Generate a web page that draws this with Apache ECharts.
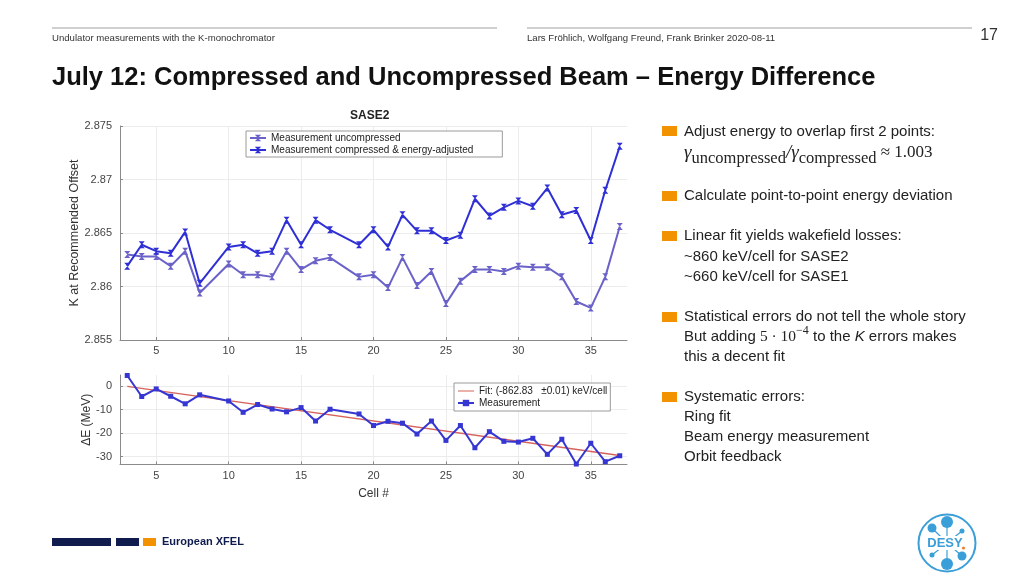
<!DOCTYPE html>
<html><head><meta charset="utf-8">
<script src="https://cdn.jsdelivr.net/npm/echarts@6.0.0/dist/echarts.min.js"></script>
<style>html,body{margin:0;padding:0;background:#fff}#c{width:1024px;height:576px}</style>
</head><body><div id="c"></div>
<script>
// ---- data ----
const cells = [3,4,5,6,7,8,10,11,12,13,14,15,16,17,19,20,21,22,23,24,25,26,27,28,29,30,31,32,33,34,35,36,37];
const kUncompressed = [2.8630,2.8628,2.8628,2.8619,2.8633,2.8594,2.8621,2.8611,2.8611,2.8609,2.8633,2.8616,2.8624,2.8627,2.8609,2.8611,2.8599,2.8627,2.8601,2.8614,2.8584,2.8605,2.8616,2.8616,2.8614,2.8619,2.8618,2.8618,2.8609,2.8586,2.8580,2.8609,2.8656];
const kCompressed = [2.8619,2.8639,2.8633,2.8631,2.8651,2.8603,2.8637,2.8639,2.8631,2.8633,2.8662,2.8639,2.8662,2.8653,2.8639,2.8653,2.8637,2.8667,2.8652,2.8652,2.8643,2.8648,2.8682,2.8666,2.8674,2.8680,2.8675,2.8692,2.8667,2.8671,2.8643,2.8690,2.8731];
const deltaE = [4.4,-4.5,-1.3,-4.4,-7.6,-3.8,-6.4,-11.2,-7.9,-9.8,-11.0,-9.2,-14.9,-9.9,-11.9,-16.8,-15.0,-15.8,-20.4,-14.9,-23.1,-16.8,-26.2,-19.4,-23.5,-23.8,-22.2,-29.0,-22.6,-33.1,-24.3,-32.1,-29.6];
const fitCells = [3,37];
const fitValues = [-0.2,-29.5];
const xTicks = [5,10,15,20,25,30,35];
const kTicks = [2.855,2.86,2.865,2.87,2.875];
const eTicks = [-30,-20,-10,0];
const seriesNames = ['Measurement uncompressed','Measurement compressed & energy-adjusted','Fit: (-862.83   \u00b10.01) keV/cell','Measurement'];

const chart = echarts.init(document.getElementById('c'));
const ctx = document.createElement('canvas').getContext('2d');
const SANS = '"Liberation Sans", Arial, sans-serif';
const SERIF = '"Liberation Serif", "Times New Roman", serif';
function runs(x, segs, fill) {
  const out = []; let cx = x;
  segs.forEach(s => {
    ctx.font = s.font;
    out.push({type:'text', x:cx, y:s.y, z:10, style:{text:s.text, font:s.font, fill:fill||'#222', verticalAlign:'middle'}});
    cx += ctx.measureText(s.text).width;
  });
  return out;
}
const hourglass = 'path://M0,0L10,0L5,5L10,10L0,10L5,5Z';
const lineIcon = 'path://M0,0L0.01,0L0.01,0.01Z M0,3L30,3L30,5L0,5Z M0,8L0.01,8L0.01,7.99Z';
const axisCommon = {
  axisLine:{show:true, onZero:false, lineStyle:{color:'#8a8a8a', width:1}},
  splitLine:{show:true, lineStyle:{color:'#ececec', width:1}}
};

// ---- slide graphics ----
const g = [];
g.push({type:'line', shape:{x1:52,y1:28,x2:497,y2:28}, style:{stroke:'#a0a0a0', lineWidth:1}});
g.push({type:'line', shape:{x1:527,y1:28,x2:972,y2:28}, style:{stroke:'#a0a0a0', lineWidth:1}});
g.push({type:'text', x:52, y:38, style:{text:'Undulator measurements with the K-monochromator', font:'9.6px ' + SANS, fill:'#333', verticalAlign:'middle'}});
g.push({type:'text', x:527, y:38, style:{text:'Lars Fr\u00f6hlich, Wolfgang Freund, Frank Brinker 2020-08-11', font:'9.6px ' + SANS, fill:'#333', verticalAlign:'middle'}});
g.push({type:'text', x:998, y:36, style:{text:'17', font:'16px ' + SANS, fill:'#333', align:'right', verticalAlign:'middle'}});
g.push({type:'text', x:52, y:78, style:{text:'July 12: Compressed and Uncompressed Beam \u2013 Energy Difference', font:'bold 25.5px ' + SANS, fill:'#111', verticalAlign:'middle'}});

// bullets
const orange = '#f39200';
[131,196,236,317,397].forEach(y => g.push({type:'rect', shape:{x:662,y:y-5,width:15,height:10}, style:{fill:orange}}));
const BF = '15px ' + SANS;
const lines = [[132,'Adjust energy to overlap first 2 points:'],[196,'Calculate point-to-point energy deviation'],[236,'Linear fit yields wakefield losses:'],[257,'~860 keV/cell for SASE2'],[277,'~660 keV/cell for SASE1'],[317,'Statistical errors do not tell the whole story'],[357,'this a decent fit'],[397,'Systematic errors:'],[417,'Ring fit'],[437,'Beam energy measurement'],[457,'Orbit feedback']];
lines.forEach(([y,t]) => g.push({type:'text', x:684, y:y, style:{text:t, font:BF, fill:'#222', verticalAlign:'middle'}}));
runs(684, [
  {text:'\u03b3', font:'italic 19px ' + SERIF, y:153},
  {text:'uncompressed', font:'16.5px ' + SERIF, y:159},
  {text:'/\u03b3', font:'italic 19px ' + SERIF, y:153},
  {text:'compressed', font:'16.5px ' + SERIF, y:159},
  {text:' \u2248 1.003', font:'17px ' + SERIF, y:153}
]).forEach(e => g.push(e));
runs(684, [
  {text:'But adding ', font:BF, y:337},
  {text:'5 \u00b7 10', font:'15.5px ' + SERIF, y:337},
  {text:'\u22124', font:'12px ' + SERIF, y:331},
  {text:' to the ', font:BF, y:337},
  {text:'K', font:'italic ' + BF, y:337},
  {text:' errors makes', font:BF, y:337}
]).forEach(e => g.push(e));

// footer
const navy = '#101b4e';
g.push({type:'rect', shape:{x:52,y:538,width:59,height:8}, style:{fill:navy}});
g.push({type:'rect', shape:{x:116,y:538,width:23,height:8}, style:{fill:navy}});
g.push({type:'rect', shape:{x:143,y:538,width:13,height:8}, style:{fill:orange}});
g.push({type:'text', x:162, y:542, style:{text:'European XFEL', font:'bold 11px ' + SANS, fill:navy, verticalAlign:'middle'}});

// DESY logo
const desy = '#3a9fd8';
const cx0 = 947, cy0 = 543;
const dots = [[947,522,6],[932,528,4.5],[962,531,2.5],[932,555,2.5],[947,564,6],[962,556,4.5]];
g.push({type:'circle', shape:{cx:cx0, cy:cy0, r:28.5}, style:{fill:'#fff', stroke:desy, lineWidth:2}});
dots.forEach(([x,y,r]) => {
  g.push({type:'line', shape:{x1:cx0,y1:cy0,x2:x,y2:y}, style:{stroke:desy, lineWidth:1.2}});
});
dots.forEach(([x,y,r]) => g.push({type:'circle', shape:{cx:x,cy:y,r:r}, style:{fill:desy}}));
g.push({type:'rect', shape:{x:928,y:536,width:38,height:14}, style:{fill:'#fff'}});
g.push({type:'text', x:945, y:543, style:{text:'DESY', font:'bold 13px ' + SANS, fill:desy, align:'center', verticalAlign:'middle'}});
g.push({type:'circle', shape:{cx:963.5, cy:548, r:1.6}, style:{fill:'#e8833a'}});

const legendCommon = {orient:'vertical', itemWidth:16, itemHeight:8, itemGap:2, borderColor:'#9a9a9a', borderWidth:1,
  backgroundColor:'#fff', textStyle:{fontSize:10, color:'#222'}};
const option = {
  animation:false,
  backgroundColor:'#fff',
  textStyle:{fontFamily:SANS},
  title:{text:'SASE2', left:350, top:110, padding:0, textStyle:{fontSize:12, fontWeight:'bold', color:'#222'}},
  grid:[
    {left:120, top:126, width:507, height:214},
    {left:120, top:375, width:507, height:89.5}
  ],
  legend:[
    Object.assign({}, legendCommon, {data:[seriesNames[0],seriesNames[1]], left:246, top:131, padding:[2,29,2,3]}),
    Object.assign({}, legendCommon, {data:[{name:seriesNames[2], icon:lineIcon, itemStyle:{color:'#d6625a'}}, seriesNames[3]], left:454, top:383, padding:[3,3,3,3]})
  ],
  xAxis:[
    Object.assign({}, axisCommon, {gridIndex:0, type:'value', min:2.5, max:37.5,
      axisTick:{show:true, inside:true, length:3, customValues:xTicks, lineStyle:{color:'#8a8a8a'}},
      axisLabel:{customValues:xTicks, fontSize:11, color:'#444', margin:5}}),
    Object.assign({}, axisCommon, {gridIndex:1, type:'value', min:2.5, max:37.5,
      name:'Cell #', nameLocation:'middle', nameGap:23, nameTextStyle:{fontSize:12, color:'#333'},
      axisTick:{show:true, inside:true, length:3, customValues:xTicks, lineStyle:{color:'#8a8a8a'}},
      axisLabel:{customValues:xTicks, fontSize:11, color:'#444', margin:6}})
  ],
  yAxis:[
    Object.assign({}, axisCommon, {gridIndex:0, type:'value', min:2.855, max:2.875,
      name:'K at Recommended Offset', nameLocation:'middle', nameGap:39, nameTextStyle:{fontSize:12.5, color:'#333'},
      axisTick:{show:true, inside:true, length:3, customValues:kTicks, lineStyle:{color:'#8a8a8a'}},
      axisLabel:{customValues:kTicks, fontSize:11, color:'#444', margin:8, formatter:v => String(+(+v).toFixed(3))}}),
    Object.assign({}, axisCommon, {gridIndex:1, type:'value', min:-33.3, max:4.6,
      name:'\u0394E (MeV)', nameLocation:'middle', nameGap:26, nameTextStyle:{fontSize:12, color:'#333'},
      axisTick:{show:true, inside:true, length:3, customValues:eTicks, lineStyle:{color:'#8a8a8a'}},
      axisLabel:{customValues:eTicks, fontSize:11, color:'#444', margin:8}})
  ],
  series:[
    {name:seriesNames[0], type:'line', xAxisIndex:0, yAxisIndex:0, data:cells.map((c,i)=>[c,kUncompressed[i]]),
     color:'#6a62c8', lineStyle:{width:2}, symbol:hourglass, symbolSize:[6,7], itemStyle:{color:'#6a62c8'}},
    {name:seriesNames[1], type:'line', xAxisIndex:0, yAxisIndex:0, data:cells.map((c,i)=>[c,kCompressed[i]]),
     color:'#2f2fd6', lineStyle:{width:2}, symbol:hourglass, symbolSize:[6,7], itemStyle:{color:'#2f2fd6'}},
    {name:seriesNames[2], type:'line', xAxisIndex:1, yAxisIndex:1, data:fitCells.map((c,i)=>[c,fitValues[i]]),
     color:'#d6625a', lineStyle:{width:1.4}, symbol:'none', itemStyle:{color:'#d6625a'}},
    {name:seriesNames[3], type:'line', xAxisIndex:1, yAxisIndex:1, data:cells.map((c,i)=>[c,deltaE[i]]),
     color:'#3636d2', lineStyle:{width:2}, symbol:'rect', symbolSize:5, itemStyle:{color:'#3636d2'}}
  ],
  graphic:g
};
chart.setOption(option);
</script></body></html>
